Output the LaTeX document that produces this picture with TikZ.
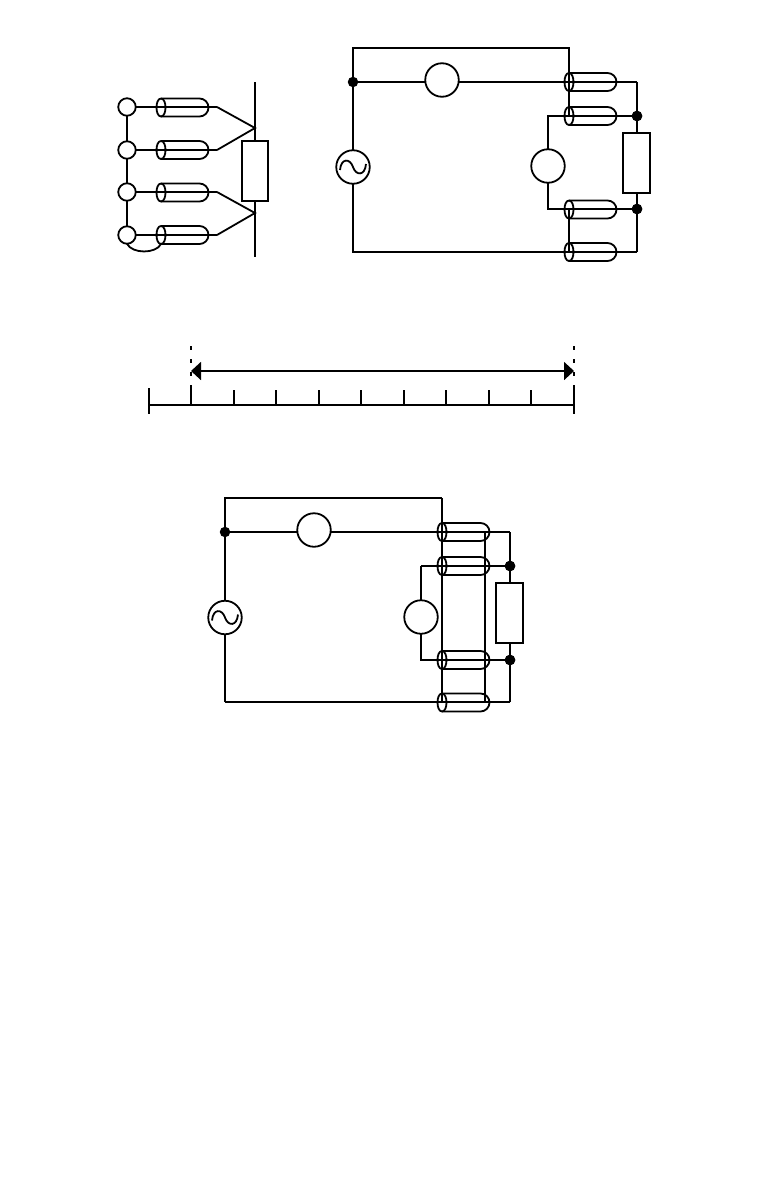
\documentclass[tikz,border=0pt]{standalone}
\usetikzlibrary{arrows.meta,calc}
\tikzset{
  x=1pt,y=-1pt,
  line width=1.8pt,
  wire/.style={draw,line width=1.8pt,line join=miter},
  heavy/.style={draw,line width=2.7pt},
  term/.style={circle,draw,fill=white,line width=1.8pt,minimum size=17.5pt,inner sep=0pt,outer sep=0pt},
  meter/.style={circle,draw,fill=white,line width=1.8pt,minimum size=33.5pt,inner sep=0pt,outer sep=0pt},
  resistor/.style={rectangle,draw,fill=white,line width=1.8pt,minimum width=26.5pt,minimum height=59.5pt,inner sep=0pt,outer sep=0pt},
  junction/.style={circle,fill=black,minimum size=10.5pt,inner sep=0pt,outer sep=0pt},
  dimarrow/.style={draw,line width=1.8pt,{Triangle[length=10pt,width=18pt]}-{Triangle[length=10pt,width=18pt]}},
  dotline/.style={draw,line width=2pt,dash pattern=on 4pt off 9pt},
  tick/.style={draw,line width=1.8pt}
}
% cable shield: left ellipse centre at #1, #2 = name
\newcommand{\shield}[2]{%
  \coordinate (#2) at #1;
  \begin{scope}[shift={#1}]
    \draw[line width=1.8pt] (0,-9) -- (38.5,-9) .. controls (43.5,-9) and (47.5,-5) .. (47.5,0) .. controls (47.5,5) and (43.5,9) .. (38.5,9) -- (0,9);
    \draw[line width=1.8pt] (0,-9) .. controls (-6,-9) and (-6,9) .. (0,9) .. controls (6,9) and (6,-9) .. (0,-9);
  \end{scope}
}
\newcommand{\acwave}[1]{%
  \begin{scope}[shift={(#1)}]
    \draw[line width=1.8pt] (-13,3) .. controls (-12,-9) and (-3,-9) .. (0,0) .. controls (3,9) and (12,9) .. (13,-3);
  \end{scope}
}
\begin{document}
\begin{tikzpicture}
\useasboundingbox (0,0) rectangle (765,1191);
% --- left group
\node[term] (t1) at (127,107) {};
\node[term] (t2) at (127,150) {};
\node[term] (t3) at (127,192) {};
\node[term] (t4) at (127,235) {};
\coordinate (ltop) at (255,82);
\coordinate (lbot) at (255,257);
\coordinate (p1) at (255,128);
\coordinate (p2) at (255,213);
\coordinate (k1) at (217,107);
\coordinate (k2) at (217,150);
\coordinate (k3) at (217,192);
\coordinate (k4) at (217,235);
\draw[wire] (ltop) -- (lbot);
\node[resistor] (r1) at (255,171) {};
\draw[wire] (t1) -- (t2);
\draw[wire] (t2) -- (t3);
\draw[wire] (t3) -- (t4);
\draw[wire] (k1) -- (p1) -- (k2);
\draw[wire] (k3) -- (p2) -- (k4);
\shield{(161,107.5)}{c1}
\shield{(161,150)}{c2}
\shield{(161,192.5)}{c3}
\shield{(161,235)}{c4}
\draw[wire] (t1.east) -- (k1);
\draw[wire] (t2.east) -- (k2);
\draw[heavy] (t3.east) -- (k3);
\draw[wire] (t4.east) -- (k4);
\draw[wire] (t4.south) .. controls (132,254) and (156,254) .. ($(c4)+(0,9)$);
% --- right circuit
\node[meter] (src1) at (353,167) {};
\acwave{src1}
\node[meter] (m1) at (442,80) {};
\node[meter] (m2) at (548,166) {};
\node[resistor] (r2) at (636.5,163) {};
\coordinate (a1) at (569,82);
\coordinate (a2) at (569,116);
\coordinate (a3) at (569,209);
\coordinate (a4) at (569,252);
\node[junction] (d1) at (353,82) {};
\node[junction] (d2) at (637,116) {};
\node[junction] (d3) at (637,209) {};
\coordinate (tl1) at (353,48);
\coordinate (tr1) at (569,48);
\coordinate (cr1) at (637,82);
\coordinate (br1) at (637,252);
\coordinate (bl1) at (353,252);
\coordinate (m2t) at (548,116);
\coordinate (m2b) at (548,209);
\draw[wire] (d1) -- (tl1) -- (tr1) -- (a1);
\draw[heavy] (d1) -- (src1);
\draw[wire] (d1) -- (d1 -| m1.west);
\draw[wire] (d1 -| m1.east) -- (a1);
\draw[wire] (cr1) -- (r2.north -| cr1);
\draw[wire] (r2.south -| br1) -- (br1);
\draw[wire] (br1) -- (bl1) -- (src1);
\draw[wire] (m2) -- (m2t) -- (d2);
\draw[wire] (m2) -- (m2b) -- (d3);
\draw[wire] (a1) -- (a2);
\draw[wire] (a3) -- (a4);
\shield{(569,82)}{s1}
\shield{(569,116)}{s2}
\shield{(569,209.5)}{s3}
\shield{(569,252)}{s4}
\draw[wire] (s1) -- (cr1);
\draw[wire] (a2) -- (d2);
\draw[wire] (a3) -- (d3);
\draw[wire] (a4) -- (br1);
\node[junction] at (d2) {};
\node[junction] at (d3) {};
% --- dimension
\coordinate (dl0) at (191,346);
\coordinate (dl1) at (191,376);
\coordinate (dr0) at (574,346);
\coordinate (dr1) at (574,376);
\coordinate (al) at (191,371);
\coordinate (ar) at (574,371);
\draw[dotline] (dl0) -- (dl1);
\draw[dotline] (dr0) -- (dr1);
\draw[dimarrow] (al) -- (ar);
\coordinate (rl) at (149,405);
\coordinate (rr) at (574,405);
\draw[tick] (rl) -- (rr);
\draw[tick] (149,388) -- (149,414);
\draw[tick] (574,385) -- (574,414);
\draw[tick] (191,385) -- (191,405);
\foreach \tx in {234,276,319,361,404,446,489,531}
  \draw[tick] (\tx,390) -- (\tx,405);
% --- bottom circuit
\node[meter] (src2) at (225,617.5) {};
\acwave{src2}
\node[meter] (m3) at (314,530) {};
\node[meter] (m4) at (421,617) {};
\node[resistor] (r3) at (509.5,613) {};
\coordinate (b1) at (442,532);
\coordinate (b2) at (442,566);
\coordinate (b3) at (442,660);
\coordinate (b4) at (442,702);
\node[junction] (d4) at (225,532) {};
\node[junction] (d5) at (510,566) {};
\node[junction] (d6) at (510,660) {};
\coordinate (tl2) at (225,498);
\coordinate (tr2) at (442,498);
\coordinate (cr2) at (510,532);
\coordinate (br2) at (510,702);
\coordinate (bl2) at (225,702);
\coordinate (m4t) at (421,566);
\coordinate (m4b) at (421,660);
\coordinate (e1) at (485,532);
\coordinate (e2) at (485,702);
\draw[wire] (d4) -- (src2);
\draw[heavy] (d4) -- (tl2) -- (tr2);
\draw[wire] (tr2) -- (b1);
\draw[wire] (d4) -- (d4 -| m3.west);
\draw[wire] (d4 -| m3.east) -- (b1);
\draw[wire] (cr2) -- (r3.north -| cr2);
\draw[wire] (r3.south -| br2) -- (br2);
\draw[heavy] (br2) -- (bl2);
\draw[wire] (bl2) -- (src2);
\draw[wire] (m4) -- (m4t);
\draw[heavy] (m4t) -- (d5);
\draw[wire] (m4) -- (m4b) -- (d6);
\draw[wire] (b1) -- (b4);
\draw[wire] (e1) -- (e2);
\shield{(442,532)}{u1}
\shield{(442,566)}{u2}
\shield{(442,660)}{u3}
\shield{(442,702.5)}{u4}
\draw[wire] (b1) -- (cr2);
\draw[heavy] (b2) -- (d5);
\draw[wire] (b3) -- (d6);
\draw[heavy] (b4) -- (br2);
\node[junction] at (d5) {};
\node[junction] at (d6) {};
\end{tikzpicture}
\end{document}
